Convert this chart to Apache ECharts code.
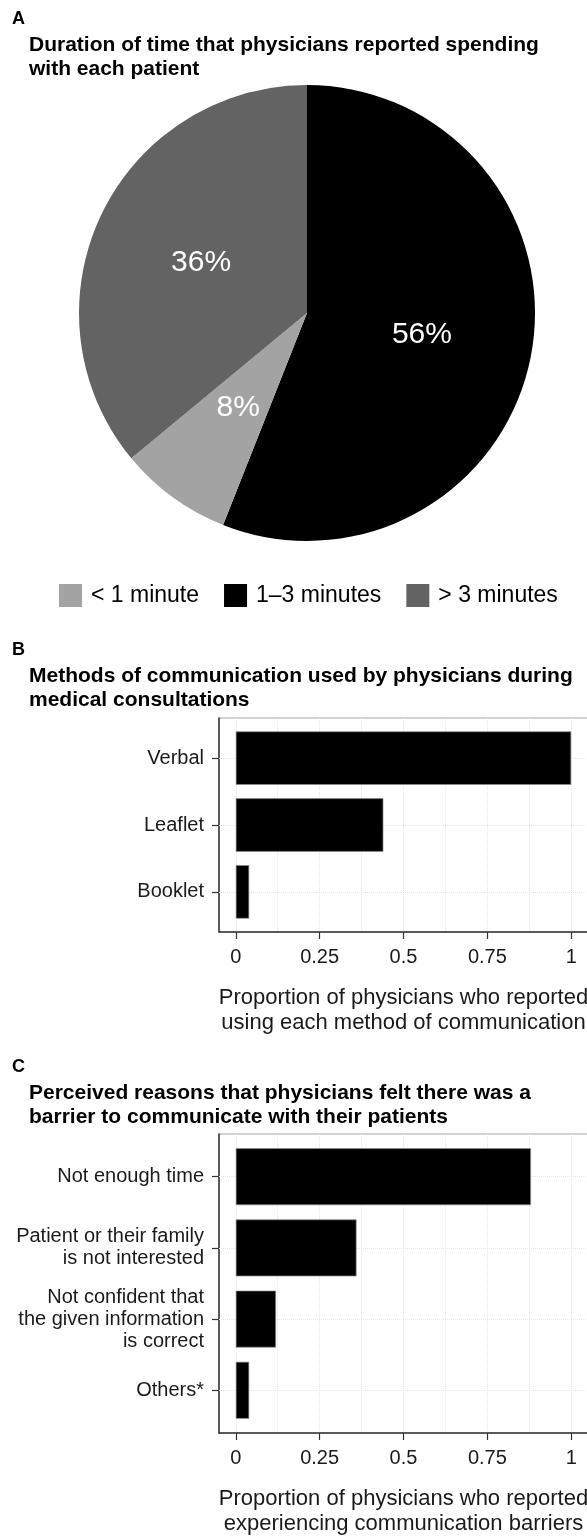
<!DOCTYPE html>
<html>
<head>
<meta charset="utf-8">
<script src="https://cdn.jsdelivr.net/npm/echarts@6/dist/echarts.min.js"></script>
<style>
  html, body { margin: 0; padding: 0; background: #fff; }
  #chart { width: 587px; height: 1536px; }
</style>
</head>
<body>
<div id="chart"></div>
<script>
// A: time spent with each patient (%), clockwise from 12 o'clock
const durationNames = ['1–3 minutes', '< 1 minute', '> 3 minutes']
const durationValues = [56, 8, 36]
const durationColors = ['#000000', '#a3a3a3', '#636363']
const legendOrder = ['< 1 minute', '1–3 minutes', '> 3 minutes']

// B: methods of communication
const methodNames = ['Verbal', 'Leaflet', 'Booklet']
const methodValues = [1.0, 0.44, 0.04]

// C: perceived barriers
const barrierNames = [
  'Not enough time',
  'Patient or their family\nis not interested',
  'Not confident that\nthe given information\nis correct',
  'Others*'
]
const barrierValues = [0.88, 0.36, 0.12, 0.04]

// x axis ticks
const majorTicks = [0, 0.25, 0.5, 0.75, 1]
const minorTicks = [0.125, 0.375, 0.625, 0.875]

const FONT = '"Liberation Sans", Arial, Helvetica, sans-serif'
const dark = '#333333'
const gridStyle = { color: '#e6e6e6', type: 'dotted', width: 1 }

const grids = []
const xAxes = []
const yAxes = []
const series = []

// one bar panel = frame grid (box, x axis, grid lines) + data grid (bars, category labels)
function addBarPanel (top, height, names, values, axisName) {
  const n = names.length
  const unit = height / (n + 0.2) // ggplot pads 0.6 of a band on each end
  const frame = grids.length
  const inner = frame + 1
  grids.push({ left: 219, right: -1, top: top, height: height, show: true, borderColor: '#a6a6a6', borderWidth: 1, outerBoundsMode: 'none' })
  grids.push({ left: 219, right: -1, top: top + unit * 0.1, height: unit * n, outerBoundsMode: 'none' })

  xAxes.push({
    gridIndex: frame,
    type: 'value',
    min: -0.05,
    max: 1.05,
    name: axisName,
    nameLocation: 'middle',
    nameGap: 53,
    nameTextStyle: { fontSize: 22, lineHeight: 25, color: '#1a1a1a', fontFamily: FONT },
    axisLine: { show: true, onZero: false, lineStyle: { color: dark, width: 1.5 } },
    axisTick: { show: true, customValues: majorTicks, length: 7, lineStyle: { color: dark, width: 1.2 } },
    axisLabel: { customValues: majorTicks, fontSize: 20, color: '#1a1a1a', margin: 15, fontFamily: FONT },
    splitLine: { show: true, lineStyle: gridStyle }
  })
  xAxes.push({
    gridIndex: frame,
    type: 'value',
    position: 'top',
    min: -0.05,
    max: 1.05,
    axisLine: { show: false, onZero: false },
    axisTick: { show: false, customValues: minorTicks },
    axisLabel: { show: false },
    splitLine: { show: true, lineStyle: gridStyle }
  })
  const dataX = xAxes.length
  xAxes.push({ gridIndex: inner, type: 'value', min: -0.05, max: 1.05, show: false, splitLine: { show: false } })

  yAxes.push({
    gridIndex: frame,
    type: 'value',
    min: 0,
    max: 1,
    axisLine: { show: true, onZero: false, lineStyle: { color: dark, width: 1.5 } },
    axisTick: { show: false },
    axisLabel: { show: false },
    splitLine: { show: false }
  })
  yAxes.push({
    gridIndex: inner,
    type: 'category',
    data: names,
    inverse: true,
    axisLine: { show: false, onZero: false },
    axisTick: { show: true, alignWithLabel: true, length: 7, lineStyle: { color: dark, width: 1.2 } },
    axisLabel: { interval: 0, fontSize: 20, lineHeight: 22, color: '#1a1a1a', margin: 15, fontFamily: FONT },
    splitLine: { show: false }
  })

  series.push({
    type: 'bar',
    xAxisIndex: dataX,
    yAxisIndex: inner,
    data: values,
    barCategoryGap: '20%',
    z: 2,
    itemStyle: { color: '#000', borderColor: '#8c8c8c', borderWidth: 0.7 },
    emphasis: { disabled: true },
    markLine: {
      silent: true,
      z: 1,
      symbol: ['none', 'none'],
      label: { show: false },
      lineStyle: gridStyle,
      data: names.map(c => ({ yAxis: c }))
    }
  })
}

addBarPanel(718, 214, methodNames, methodValues,
  'Proportion of physicians who reported\nusing each method of communication')
addBarPanel(1134, 299, barrierNames, barrierValues,
  'Proportion of physicians who reported\nexperiencing communication barriers')

series.push({
  type: 'pie',
  center: [307, 313],
  radius: 228,
  startAngle: 90,
  clockwise: true,
  data: durationNames.map((n, i) => ({ name: n, value: durationValues[i], itemStyle: { color: durationColors[i] } })),
  label: { show: true, position: 'inside', formatter: '{c}%', color: '#fff', fontSize: 30, fontFamily: FONT },
  labelLine: { show: false },
  itemStyle: { borderWidth: 0 },
  emphasis: { disabled: true }
})

function panelTitle (letter, text, y) {
  return [
    { text: letter, left: 12, top: y, padding: 0, textStyle: { fontSize: 18, fontWeight: 'bold', lineHeight: 18, color: '#000', fontFamily: FONT } },
    { text: text, left: 29, top: y + 23, padding: 0, textStyle: { fontSize: 21, fontWeight: 'bold', lineHeight: 24, color: '#000', fontFamily: FONT } }
  ]
}

const chart = echarts.init(document.getElementById('chart'))
chart.setOption({
  animation: false,
  backgroundColor: '#fff',
  textStyle: { fontFamily: FONT },
  title: [].concat(
    panelTitle('A', 'Duration of time that physicians reported spending\nwith each patient', 10),
    panelTitle('B', 'Methods of communication used by physicians during\nmedical consultations', 641),
    panelTitle('C', 'Perceived reasons that physicians felt there was a\nbarrier to communicate with their patients', 1058)
  ),
  legend: {
    data: legendOrder,
    left: 59,
    top: 584,
    padding: 0,
    icon: 'rect',
    itemWidth: 23,
    itemHeight: 23,
    itemGap: 25,
    selectedMode: false,
    textStyle: { fontSize: 23, color: '#000', padding: [0, 0, 0, 4], fontFamily: FONT }
  },
  grid: grids,
  xAxis: xAxes,
  yAxis: yAxes,
  series: series
})
</script>
</body>
</html>
